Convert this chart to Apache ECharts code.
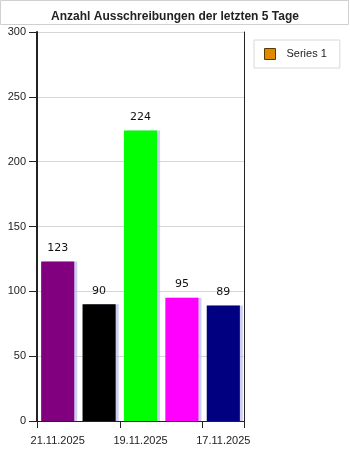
<!DOCTYPE html>
<html><head><meta charset="utf-8">
<script src="https://cdn.jsdelivr.net/npm/echarts@6/dist/echarts.min.js"></script>
<style>html,body{margin:0;padding:0;background:#fff}#c{width:350px;height:450px}</style>
</head><body><div id="c"></div>
<script>
const categories = ['21.11.2025','20.11.2025','19.11.2025','18.11.2025','17.11.2025'];
const values = [123, 90, 224, 95, 89];
const barColors = ['#800080','#000000','#00ff00','#ff00ff','#000080'];
const yTicks = [0, 50, 100, 150, 200, 250, 300];
const titleText = 'Anzahl Ausschreibungen der letzten 5 Tage';
const seriesName = 'Series 1';

const font = 'Liberation Sans, Arial, sans-serif';
const chart = echarts.init(document.getElementById('c'));
chart.setOption({
  animation: false,
  textStyle: { fontFamily: font },
  graphic: [{
    type: 'rect', shape: { x: 0.5, y: 0.5, width: 348, height: 24 },
    style: { fill: '#fff', stroke: '#d0d0d0', lineWidth: 1 }, z: -1
  }],
  title: {
    text: titleText, left: 'center', top: 6,
    textStyle: { fontFamily: font, fontSize: 12, fontWeight: 'bold', color: '#222' }
  },
  legend: {
    data: [seriesName], left: 254, top: 40, orient: 'vertical',
    padding: [8, 13, 8, 10], borderColor: '#d8d8d8', borderWidth: 1,
    itemWidth: 11, itemHeight: 11, itemGap: 8, icon: 'rect',
    textStyle: { fontFamily: font, fontSize: 11, color: '#222', padding: [0, 0, 0, 6] },
    itemStyle: { color: '#e08a00', borderColor: '#5a3a00', borderWidth: 1 }
  },
  grid: { left: 37, right: 106, top: 32, bottom: 29 },
  xAxis: [{
    type: 'category', data: categories, boundaryGap: true,
    axisLine: { show: false },
    axisTick: { show: true, interval: 1, length: 7, lineStyle: { color: '#222' } },
    axisLabel: { interval: 1, fontSize: 11, color: '#222', margin: 14, fontFamily: font }
  }, {
    type: 'category', data: categories, position: 'top',
    axisLine: { show: true, lineStyle: { color: '#222', width: 1 } },
    axisTick: { show: false }, axisLabel: { show: false }
  }, {
    type: 'value', min: 0, max: categories.length, interval: categories.length, position: 'bottom',
    axisLine: { show: false },
    axisTick: { show: true, length: 7, lineStyle: { color: '#222' } },
    axisLabel: { show: false }, splitLine: { show: false }
  }],
  yAxis: [{
    type: 'value', min: yTicks[0], max: yTicks[yTicks.length - 1], interval: 50,
    axisLine: { show: true, lineStyle: { color: '#222', width: 2 } },
    axisTick: { show: true, length: 8, lineStyle: { color: '#222' } },
    axisLabel: { fontSize: 11, color: '#222', margin: 11, fontFamily: font },
    splitLine: { show: true, lineStyle: { color: '#d6d6d6' } }
  }, {
    type: 'value', min: yTicks[0], max: yTicks[yTicks.length - 1], interval: 50, position: 'right',
    axisLine: { show: true, lineStyle: { color: '#222', width: 1 } },
    axisTick: { show: false }, axisLabel: { show: false }, splitLine: { show: false }
  }],
  series: [{
    name: seriesName, type: 'bar', barWidth: '80%', xAxisIndex: 0, yAxisIndex: 0,
    itemStyle: { color: '#e08a00', shadowColor: 'rgba(185,185,240,0.7)', shadowOffsetX: 3, shadowOffsetY: 0, shadowBlur: 0 },
    label: {
      show: true, position: 'top', distance: 8, fontSize: 11, color: '#111',
      fontFamily: 'DejaVu Sans, sans-serif'
    },
    data: values.map((v, i) => ({ value: v, itemStyle: { color: barColors[i] } }))
  }]
});
</script></body></html>
